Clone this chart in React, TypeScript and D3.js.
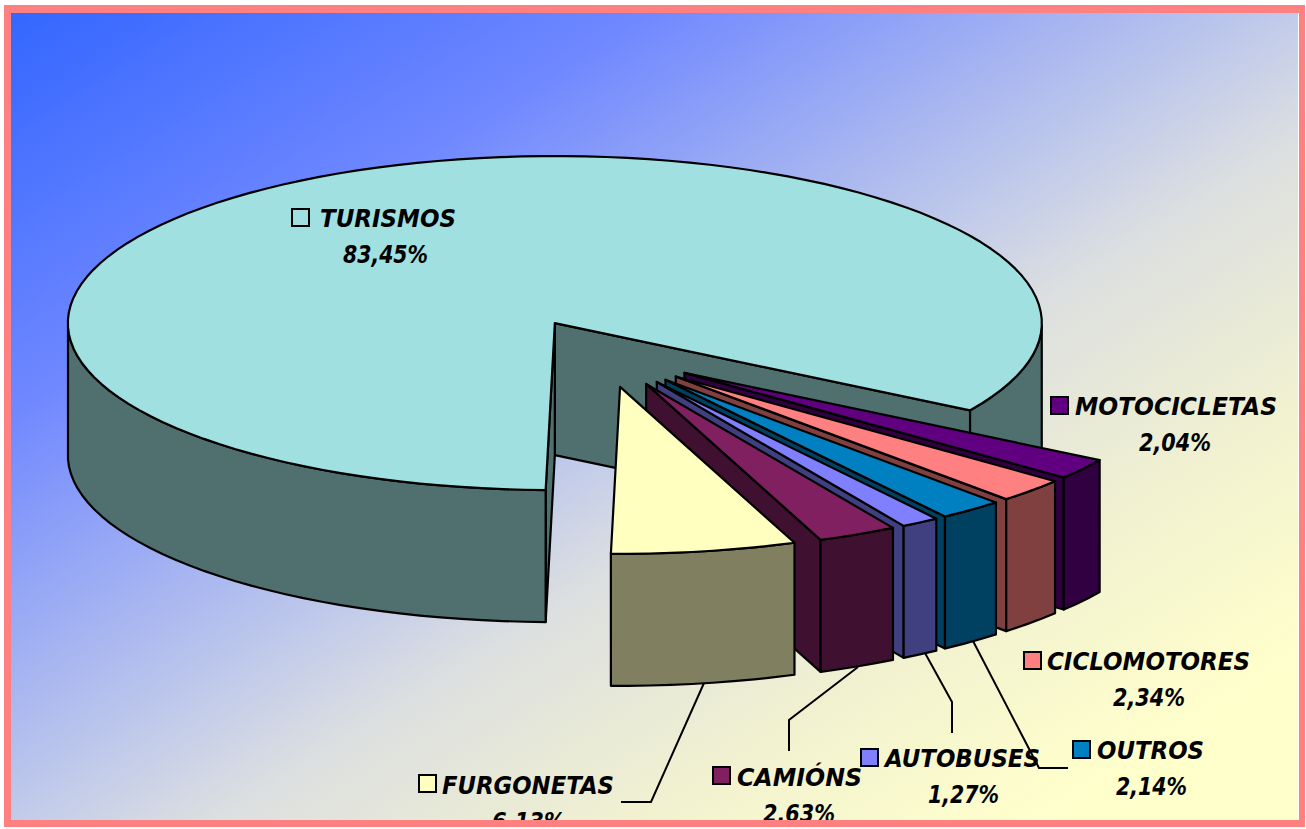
import { useEffect, useRef } from "react";
import * as d3 from "d3";

// Clockwise from the cut at lower right
const categories = ["MOTOCICLETAS", "CICLOMOTORES", "OUTROS", "AUTOBUSES", "CAMIÓNS", "FURGONETAS", "TURISMOS"];
const values = [2.04, 2.34, 2.14, 1.27, 2.63, 6.13, 83.45];
const valueLabels = ["2,04%", "2,34%", "2,14%", "1,27%", "2,63%", "6,13%", "83,45%"];
const topColors = ["#600080", "#FF8080", "#0080C0", "#8080FF", "#802060", "#FFFFC0", "#A0E0E0"];
const sideColors = ["#300040", "#804040", "#004060", "#404080", "#401030", "#808060", "#507070"];

// Big slice sits behind everything, the rest stack back to front
const drawOrder = [6, 0, 1, 2, 3, 4, 5];

// Where each legend entry sits: key box left/top, name left/right/baseline, value left/right/baseline
const labelLayout = [
  { kx: 1051, ky: 397, nx0: 1075, nx1: 1277, ny: 415, vx0: 1139, vx1: 1211, vy: 451 },
  { kx: 1024, ky: 652, nx0: 1047, nx1: 1250, ny: 670, vx0: 1113, vx1: 1185, vy: 706 },
  { kx: 1073, ky: 741, nx0: 1097, nx1: 1204, ny: 759, vx0: 1116, vx1: 1187, vy: 795 },
  { kx: 861, ky: 749, nx0: 885, nx1: 1040, ny: 767, vx0: 928, vx1: 999, vy: 803 },
  { kx: 713, ky: 767, nx0: 737, nx1: 862, ny: 786, vx0: 763, vx1: 835, vy: 822 },
  { kx: 419, ky: 775, nx0: 442, nx1: 614, ny: 794, vx0: 492, vx1: 565, vy: 830 },
  { kx: 292, ky: 209, nx0: 320, nx1: 456, ny: 227, vx0: 343, vx1: 428, vy: 263 },
];

const leaders: [number, number][][] = [
  [[973, 641], [1039, 768], [1068, 768]],
  [[925, 653], [952, 702], [952, 733]],
  [[858, 667], [789, 720], [789, 751]],
  [[704, 683], [651, 802], [621, 802]],
];

const bgStops: [number, string][] = [
  [0, "#3366FF"],
  [0.25, "#7088FF"],
  [0.52, "#C8D0E8"],
  [0.58, "#DCDFE0"],
  [0.75, "#F2F2D0"],
  [0.9, "#FFFFCC"],
  [1, "#FFFFCC"],
];

const W = 1306;
const H = 829;
const cx = 602.8;
const cy = 353.1;
const rx = 487;
const ry = 167;
const depth = 132;
const explode = 0.205;
const startDeg = 121.5; // d3 angle (from 12 o'clock) of the first slice
const font = "'Comic Sans MS', 'DejaVu Sans', sans-serif";

type P = [number, number];

export default function App() {
  const svgRef = useRef<SVGSVGElement>(null);

  useEffect(() => {
    if (!svgRef.current) return;
    const svg = d3.select(svgRef.current);
    svg.selectAll("*").remove();

    const defs = svg.append("defs");
    const grad = defs
      .append("linearGradient")
      .attr("id", "bg")
      .attr("x1", 0)
      .attr("y1", 0)
      .attr("x2", 1)
      .attr("y2", 1);
    bgStops.forEach(([o, c]) => {
      grad.append("stop").attr("offset", o).attr("stop-color", c);
    });

    svg
      .append("rect")
      .attr("x", 8)
      .attr("y", 9)
      .attr("width", W - 16)
      .attr("height", H - 17)
      .attr("fill", "url(#bg)");

    const pie = d3
      .pie<number>()
      .sort(null)
      .startAngle((startDeg * Math.PI) / 180)
      .endAngle((startDeg * Math.PI) / 180 + 2 * Math.PI);
    const arcs = pie(values);

    const line = d3.line<P>().curve(d3.curveLinear);

    drawOrder.forEach((i) => {
      const arc = arcs[i];
      const mid = (arc.startAngle + arc.endAngle) / 2;
      const ox = cx + explode * rx * Math.sin(mid);
      const oy = cy - explode * ry * Math.cos(mid);
      const pt = (a: number, dz = 0): P => [ox + rx * Math.sin(a), oy - ry * Math.cos(a) + dz];
      const side = sideColors[i];
      const g = svg.append("g").attr("stroke", "#000").attr("stroke-width", 2.2).attr("stroke-linejoin", "round");

      // Cut faces that look towards the viewer
      [arc.endAngle, arc.startAngle].forEach((a, k) => {
        const facing = k === 0 ? Math.sin(a) > 0 : Math.sin(a) < 0;
        if (!facing) return;
        const cut: P[] = [[ox, oy], pt(a), pt(a, depth), [ox, oy + depth]];
        g.append("path").attr("d", line(cut) + "Z").attr("fill", side);
      });

      // Outer wall, only over the front half of the ellipse
      const samples = d3.range(arc.startAngle, arc.endAngle, (2.5 * Math.PI) / 180).concat(arc.endAngle);
      const runs: number[][] = [];
      samples.forEach((a, k) => {
        const front = Math.cos(a) < 0.001;
        if (!front) return;
        const prevFront = k > 0 && Math.cos(samples[k - 1]) < 0.001;
        if (prevFront) runs[runs.length - 1].push(a);
        else runs.push([a]);
      });
      runs.forEach((run) => {
        const wall = [...run.map((a) => pt(a)), ...run.slice().reverse().map((a) => pt(a, depth))];
        g.append("path").attr("d", line(wall) + "Z").attr("fill", side);
      });

      // Top face
      const top: P[] = [[ox, oy], ...samples.map((a) => pt(a))];
      g.append("path").attr("d", line(top) + "Z").attr("fill", topColors[i]);
    });

    // Leader lines
    leaders.forEach((pts) => {
      svg
        .append("path")
        .attr("d", line(pts as P[]))
        .attr("fill", "none")
        .attr("stroke", "#000")
        .attr("stroke-width", 2);
    });

    // Legend keys and labels
    categories.forEach((name, i) => {
      const l = labelLayout[i];
      svg
        .append("rect")
        .attr("x", l.kx)
        .attr("y", l.ky)
        .attr("width", 17)
        .attr("height", 17)
        .attr("fill", topColors[i])
        .attr("stroke", "#000")
        .attr("stroke-width", 2);
      const label = (str: string, x0: number, x1: number, y: number) =>
        svg
          .append("text")
          .attr("x", x0)
          .attr("y", y)
          .attr("textLength", x1 - x0)
          .attr("lengthAdjust", "spacingAndGlyphs")
          .attr("font-family", font)
          .attr("font-size", 24)
          .attr("font-weight", 700)
          .attr("font-style", "italic")
          .attr("fill", "#000")
          .text(str);
      label(name, l.nx0, l.nx1, l.ny);
      label(valueLabels[i], l.vx0, l.vx1, l.vy);
    });

    // Frame goes last, it cuts off the lowest label as in the original
    svg
      .append("path")
      .attr("fill-rule", "evenodd")
      .attr("fill", "#FF8080")
      .attr("d", `M4,5H${W - 1}V827H4Z M11,13V820H1299V13Z`);
    svg
      .append("rect")
      .attr("x", 0)
      .attr("y", 827)
      .attr("width", W)
      .attr("height", 2)
      .attr("fill", "#fff");
  }, []);

  return (
    <svg
      ref={svgRef}
      width={W}
      height={H}
      viewBox={`0 0 ${W} ${H}`}
      style={{ position: "absolute", left: 0, top: 0, display: "block", background: "#fff" }}
    />
  );
}
